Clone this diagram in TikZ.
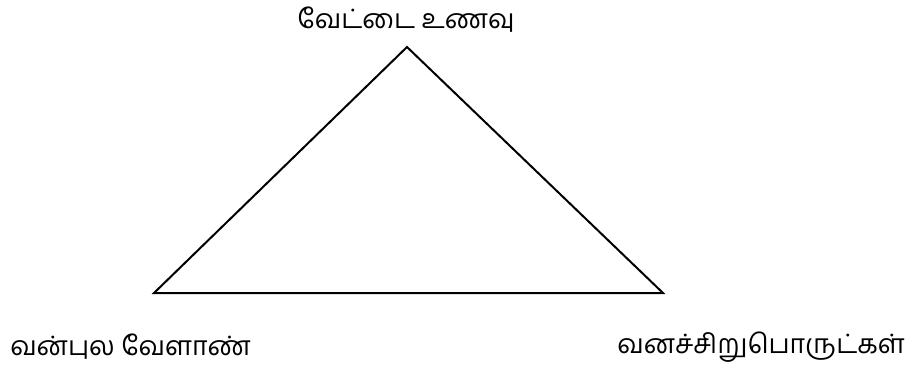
\documentclass[tikz,border=0pt]{standalone}
\usepackage{fontspec}
\newfontfamily\tamilfont[Script=Tamil]{Hind Madurai}
\usetikzlibrary{positioning}

\begin{document}
\begin{tikzpicture}[
  x=0.75pt,y=-0.75pt,
  lbl/.style={font=\tamilfont\fontsize{20}{24}\selectfont,inner sep=0pt},
  edge/.style={line width=1.5pt,line join=miter}
]
\useasboundingbox (0,0) rectangle (912,365);
\coordinate (apex) at (407,47);
\coordinate (wleft) at (154,293);
\coordinate (wright) at (663,293);
\draw[edge] (apex) -- (wleft) -- (wright) -- cycle;
\node[lbl] (hunt) at (406,20) {வேட்டை உணவு};
\node[lbl,anchor=west] (farm) at (10,347) {வன்புல வேளாண்};
\node[lbl,anchor=east] (forest) at (905,347) {வனச்சிறுபொருட்கள்};
\end{tikzpicture}
\end{document}
